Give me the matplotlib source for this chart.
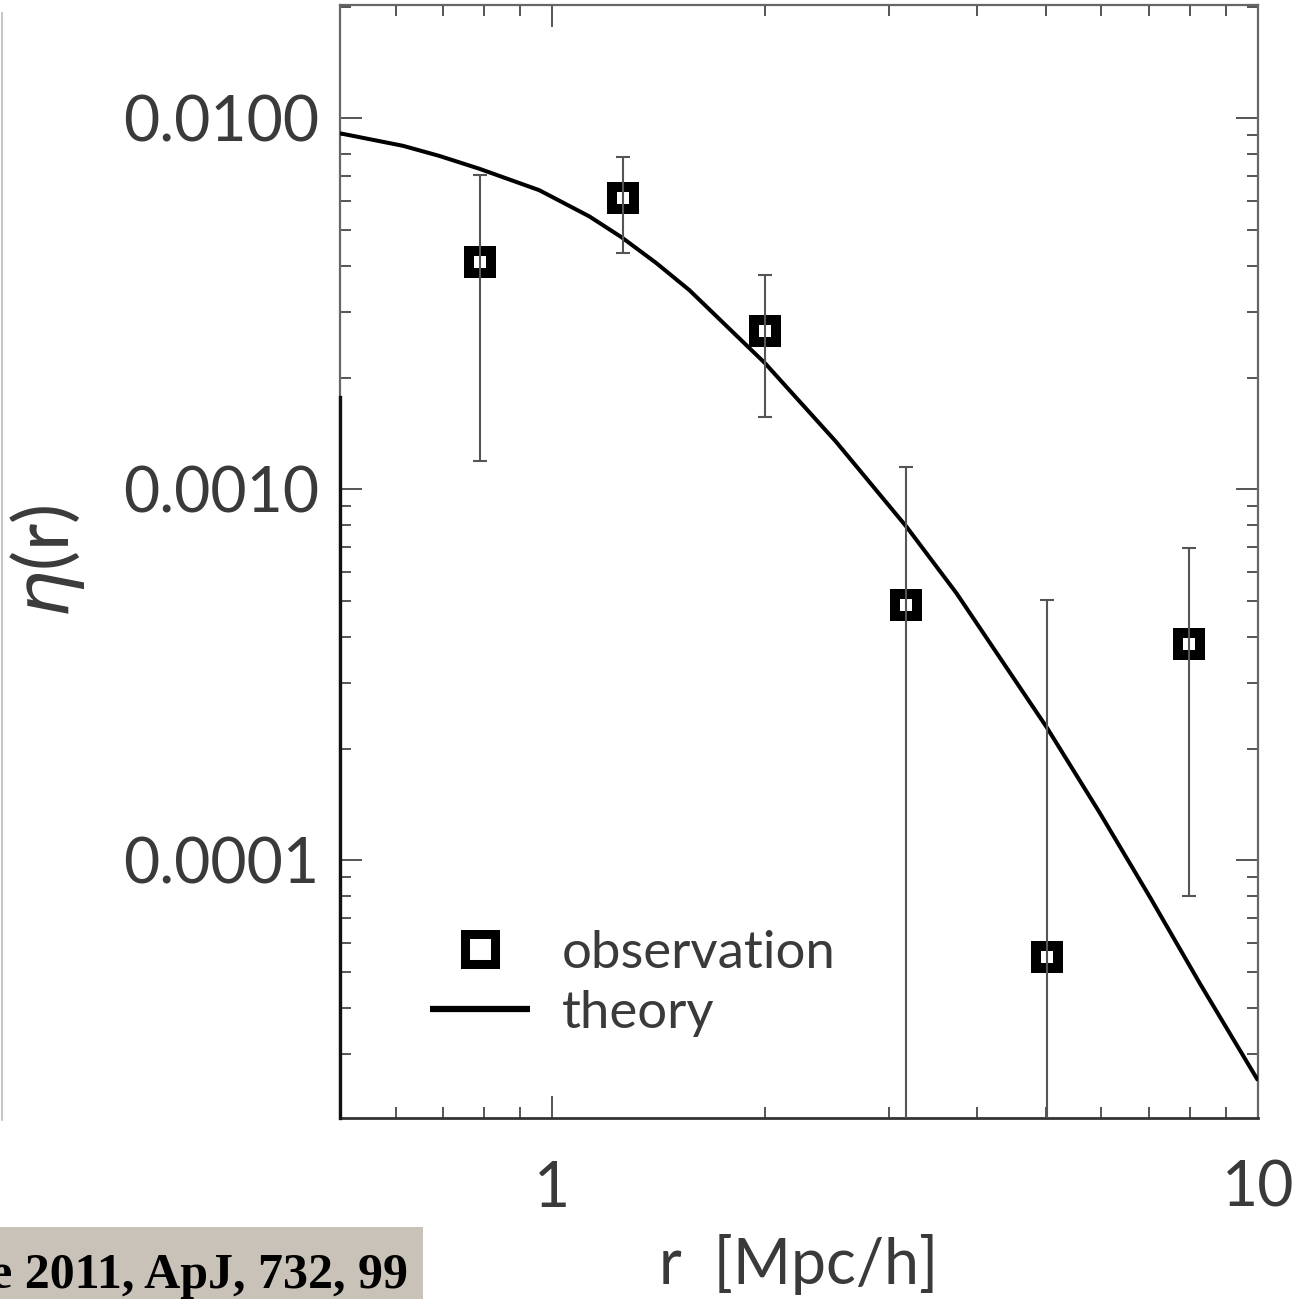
import matplotlib
matplotlib.use("Agg")
import matplotlib.pyplot as plt
from matplotlib.lines import Line2D
from matplotlib.patches import Rectangle
from matplotlib.ticker import FixedLocator, FuncFormatter, LogLocator, NullFormatter

plt.rcParams["font.family"] = ["Lato", "DejaVu Sans"]
plt.rcParams["mathtext.fontset"] = "dejavusans"

# Observed eta(r) with asymmetric error bars (lower bound 0 -> runs off the log axis)
r_obs = [0.79, 1.26, 2.0, 3.17, 5.02, 7.98]
eta_obs = [0.00409, 0.00609, 0.00267, 0.000487, 5.47e-5, 0.000382]
eta_hi = [0.00702, 0.00785, 0.00378, 0.00115, 0.000502, 0.000693]
eta_lo = [0.00119, 0.00433, 0.00157, 0.0, 0.0, 8.0e-5]

# Theoretical prediction
r_th = [0.50, 0.614, 0.691, 0.788, 0.958, 1.128, 1.253, 1.404, 1.564, 2.0, 2.52,
        3.18, 3.74, 5.02, 5.97, 7.03, 8.27, 10.0]
eta_th = [0.00911, 0.00843, 0.00792, 0.00731, 0.00640, 0.00544, 0.00478, 0.00407,
          0.00344, 0.00219, 0.001347, 0.00079, 0.000524, 0.000228, 0.000134,
          7.95e-5, 4.66e-5, 2.55e-5]

x_ticks = [1, 10]
x_ticklabels = ["1", "10"]
y_ticks = [0.0001, 0.001, 0.01]

TXT = "#3a3a3a"
AX = "#555555"

fig = plt.figure(figsize=(13.08, 12.99), dpi=100)
ax = fig.add_axes([340 / 1308, 1 - 1118 / 1299, 918 / 1308, 1113 / 1299])
ax.set_xscale("log")
ax.set_yscale("log")
ax.set_xlim(0.5, 10)
ax.set_ylim(2.02e-5, 0.0202)

# theory curve
ax.plot(r_th, eta_th, color="black", lw=2.9, solid_capstyle="butt",
        solid_joinstyle="round", zorder=3)

# observation markers, with error bars drawn on top
ax.plot(r_obs, eta_obs, ls="none", marker="s", ms=15.5, mew=7.2,
        mfc="white", mec="black", zorder=4)
yerr = [[v - lo for v, lo in zip(eta_obs, eta_lo)],
        [hi - v for v, hi in zip(eta_obs, eta_hi)]]
ax.errorbar(r_obs, eta_obs, yerr=yerr, fmt="none", ecolor="#555555",
            elinewidth=1.5, capsize=4.7, capthick=1.5, zorder=5)

# ticks
ax.xaxis.set_major_locator(FixedLocator(x_ticks))
ax.xaxis.set_major_formatter(FuncFormatter(lambda v, p: x_ticklabels[x_ticks.index(v)] if v in x_ticks else ""))
ax.xaxis.set_minor_locator(LogLocator(base=10, subs=range(2, 10)))
ax.xaxis.set_minor_formatter(NullFormatter())
ax.yaxis.set_major_locator(FixedLocator(y_ticks))
ax.yaxis.set_major_formatter(FuncFormatter(lambda v, p: f"{v:.4f}"))
ax.yaxis.set_minor_locator(LogLocator(base=10, subs=range(2, 10)))
ax.yaxis.set_minor_formatter(NullFormatter())

ax.tick_params(which="both", direction="in", top=True, right=True, color=AX,
               width=1.4, labelcolor=TXT, labelsize=45)
ax.tick_params(which="major", length=16)
ax.tick_params(which="minor", length=8)
ax.tick_params(axis="x", which="major", pad=30)
ax.tick_params(axis="y", which="major", pad=15)

for side in ["top", "right", "left"]:
    ax.spines[side].set_color("#666666")
    ax.spines[side].set_linewidth(1.6)
ax.spines["bottom"].set_color("#333333")
ax.spines["bottom"].set_linewidth(2.0)
# darker lower section of the left frame
ax.axvline(0.5, ymin=0, ymax=0.648, color="#111111", lw=2.4, zorder=6, clip_on=False)

ax.set_xlabel("r  [Mpc/h]", fontsize=45, color=TXT, labelpad=12)
ax.set_ylabel(r"$\eta$(r)", fontsize=54, color=TXT, labelpad=26)

handles = [
    Line2D([], [], ls="none", marker="s", ms=22, mew=6.5, mfc="white", mec="black"),
    Line2D([], [], color="black", lw=4.5, solid_capstyle="butt"),
]
leg = ax.legend(handles, ["observation", "theory"], loc="lower left",
                bbox_to_anchor=(0.098, 0.073), frameon=False, fontsize=38,
                handlelength=1.9, handletextpad=0.6, labelspacing=0.25,
                borderpad=0, borderaxespad=0)
for t in leg.get_texts():
    t.set_color(TXT)

# neighbouring panel edge and citation banner
fig.add_artist(Line2D([1.5 / 1308, 1.5 / 1308], [1 - 1120 / 1299, 1 - 13 / 1299],
                      transform=fig.transFigure, color="#bbbbbb", lw=1.2))
fig.add_artist(Rectangle((0, 0), 423 / 1308, 72 / 1299, transform=fig.transFigure,
                         facecolor="#c9c2b8", edgecolor="none"))
fig.text(408 / 1308, 1 - 1288 / 1299, "e 2011, ApJ, 732, 99", ha="right", va="baseline",
         fontsize=36, fontweight="bold", family="Liberation Serif", color="black")

fig.savefig("out.png", dpi=100)
